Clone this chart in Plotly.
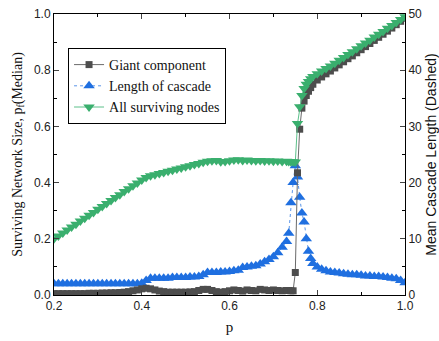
import plotly.graph_objects as go

p_values = [0.20, 0.21, 0.22, 0.23, 0.24, 0.25, 0.26, 0.27, 0.28, 0.29,
            0.30, 0.31, 0.32, 0.33, 0.34, 0.35, 0.36, 0.37, 0.38, 0.39,
            0.40, 0.41, 0.42, 0.43, 0.44, 0.45, 0.46, 0.47, 0.48, 0.49,
            0.50, 0.51, 0.52, 0.53, 0.54, 0.55, 0.56, 0.57, 0.58, 0.59,
            0.60, 0.61, 0.62, 0.63, 0.64, 0.65, 0.66, 0.67, 0.68, 0.69,
            0.70, 0.71, 0.72, 0.73, 0.735, 0.74, 0.745, 0.75, 0.755, 0.76,
            0.765, 0.77, 0.775, 0.78, 0.785, 0.79,
            0.80, 0.81, 0.82, 0.83, 0.84, 0.85, 0.86, 0.87, 0.88, 0.89,
            0.90, 0.91, 0.92, 0.93, 0.94, 0.95, 0.96, 0.97, 0.98, 0.99, 1.00]

giant_component = [0.005, 0.005, 0.005, 0.005, 0.005, 0.005, 0.005, 0.005, 0.006, 0.006,
                   0.006, 0.007, 0.007, 0.008, 0.008, 0.009, 0.010, 0.012, 0.015, 0.018,
                   0.022, 0.024, 0.022, 0.018, 0.014, 0.012, 0.010, 0.010, 0.010, 0.010,
                   0.010, 0.011, 0.012, 0.016, 0.020, 0.020, 0.016, 0.012, 0.010, 0.012,
                   0.015, 0.018, 0.016, 0.014, 0.018, 0.016, 0.015, 0.020, 0.018, 0.016,
                   0.018, 0.016, 0.015, 0.016, 0.016, 0.015, 0.015, 0.080, 0.435, 0.590,
                   0.665, 0.690, 0.710, 0.725, 0.738, 0.750,
                   0.765, 0.776, 0.787, 0.797, 0.808, 0.819, 0.830, 0.841, 0.851, 0.862,
                   0.873, 0.884, 0.895, 0.906, 0.917, 0.928, 0.939, 0.950, 0.962, 0.974, 0.985]

cascade_length = [2.0, 2.0, 2.0, 2.0, 2.0, 2.0, 2.0, 2.0, 2.0, 2.0,
                  2.0, 2.0, 2.0, 2.0, 2.0, 2.0, 2.0, 2.0, 2.0, 2.0,
                  2.1, 2.6, 3.0, 3.0, 3.0, 3.0, 3.0, 3.1, 3.1, 3.1,
                  3.1, 3.2, 3.2, 3.3, 3.6, 4.0, 4.0, 4.0, 4.1, 4.1,
                  4.2, 4.3, 4.4, 4.9, 5.0, 5.1, 5.2, 5.5, 5.9, 6.3,
                  6.8, 7.5, 8.5, 9.5, 11.0, 16.4, 20.0, 23.0, 21.0, 17.4,
                  14.6, 13.0, 10.0, 7.8, 6.5, 5.6,
                  5.0, 4.6, 4.3, 4.1, 4.0, 3.9, 3.8, 3.7, 3.6, 3.6,
                  3.5, 3.4, 3.4, 3.3, 3.3, 3.2, 3.1, 3.0, 2.9, 2.6, 2.2]

all_surviving = [0.200, 0.210, 0.221, 0.231, 0.242, 0.252, 0.263, 0.273, 0.284, 0.294,
                 0.305, 0.315, 0.326, 0.336, 0.347, 0.357, 0.368, 0.378, 0.389, 0.399,
                 0.409, 0.418, 0.424, 0.428, 0.432, 0.436, 0.440, 0.444, 0.448, 0.452,
                 0.456, 0.460, 0.464, 0.468, 0.472, 0.476, 0.478, 0.479, 0.474, 0.475,
                 0.478, 0.480, 0.481, 0.479, 0.480, 0.479, 0.478, 0.479, 0.477, 0.478,
                 0.476, 0.477, 0.475, 0.476, 0.475, 0.474, 0.474, 0.473, 0.610, 0.670,
                 0.710, 0.735, 0.750, 0.760, 0.770, 0.778,
                 0.787, 0.797, 0.806, 0.815, 0.825, 0.835, 0.845, 0.856, 0.866, 0.876,
                 0.887, 0.897, 0.907, 0.918, 0.928, 0.938, 0.949, 0.959, 0.970, 0.980, 0.990]

x_ticks = [0.2, 0.4, 0.6, 0.8, 1.0]
left_ticks = [0.0, 0.2, 0.4, 0.6, 0.8, 1.0]
right_ticks = [0, 10, 20, 30, 40, 50]

C_BLACK = "#4d4d4d"
C_BLUE = "#1f6fe0"
C_GREEN = "#3aaf6e"

fig = go.Figure()

fig.add_trace(go.Scatter(
    x=p_values, y=cascade_length, name="Length of cascade", yaxis="y",
    mode="lines+markers", legendrank=2,
    line=dict(color="#5a95e8", width=1, dash="dot"),
    marker=dict(symbol="triangle-up", size=10, color=C_BLUE)))

fig.add_trace(go.Scatter(
    x=p_values, y=giant_component, name="Giant component", yaxis="y2",
    mode="lines+markers", legendrank=1,
    line=dict(color="#6a6a6a", width=1),
    marker=dict(symbol="square", size=7, color=C_BLACK)))

fig.add_trace(go.Scatter(
    x=p_values, y=all_surviving, name="All surviving nodes", yaxis="y2",
    mode="lines+markers", legendrank=3,
    line=dict(color="#5cc08a", width=1),
    marker=dict(symbol="triangle-down", size=10, color=C_GREEN)))

tickfont = dict(family="Liberation Sans, Arial", size=12, color="#222")
serif = "Liberation Serif, Times New Roman"

fig.update_layout(
    width=439, height=341,
    margin=dict(l=54, r=34, t=14, b=46),
    plot_bgcolor="white", paper_bgcolor="white",
    showlegend=True,
    legend=dict(x=0.04, y=0.879, xanchor="left", yanchor="top",
                bordercolor="black", borderwidth=1, bgcolor="white",
                font=dict(family=serif, size=14, color="#111"),
                tracegroupgap=0, itemwidth=30),
    xaxis=dict(range=[0.2, 1.0], tickvals=x_ticks, tickformat=".1f",
               ticks="inside", ticklen=5, showline=True, linecolor="black",
               linewidth=1, mirror="ticks", showgrid=False, zeroline=False,
               tickfont=tickfont, automargin=False,
               minor=dict(ticks="inside", dtick=0.1, ticklen=3, tickcolor="black"),
               title=dict(text="p", font=dict(family=serif, size=15, color="#111"),
                          standoff=9)),
    yaxis=dict(range=[0, 50], tickvals=right_ticks, side="right",
               ticks="inside", ticklen=5, showline=True, linecolor="black",
               linewidth=1, showgrid=False, zeroline=False, tickfont=tickfont,
               minor=dict(ticks="inside", dtick=5, ticklen=3, tickcolor="black"),
               automargin=False,
               title=dict(text="Mean Cascade Length (Dashed)",
                          font=dict(family="Liberation Sans, Arial", size=14, color="#111"),
                          standoff=18)),
    yaxis2=dict(range=[0, 1.0], tickvals=left_ticks, tickformat=".1f",
                overlaying="y", side="left",
                ticks="inside", ticklen=5, showline=True, linecolor="black",
                linewidth=1, showgrid=False, zeroline=False, tickfont=tickfont,
                minor=dict(ticks="inside", dtick=0.1, ticklen=3, tickcolor="black"),
                automargin=False,
                title=dict(text="Surviving Network Size, p<sub>f</sub>(Median)",
                           font=dict(family=serif, size=14, color="#111"),
                           standoff=8)),
)

fig.write_html("out.html", config={"displayModeBar": False},
               post_script="document.body.style.margin='0';document.body.style.overflow='hidden';")
